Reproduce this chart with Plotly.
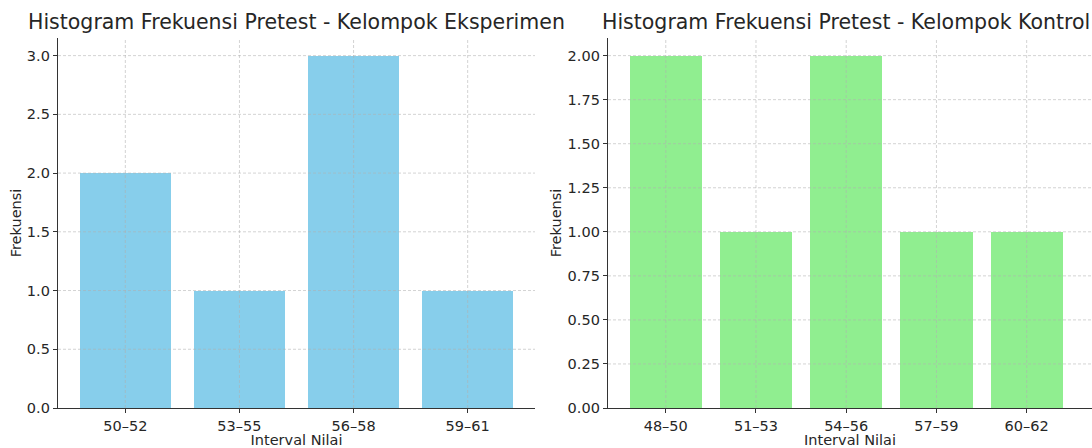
import plotly.graph_objects as go

# Data
eksperimen_labels = ["50–52", "53–55", "56–58", "59–61"]
eksperimen_freq = [2, 1, 3, 1]
kontrol_labels = ["48–50", "51–53", "54–56", "57–59", "60–62"]
kontrol_freq = [2, 1, 2, 1, 1]
eksperimen_yticks = [0.0, 0.5, 1.0, 1.5, 2.0, 2.5, 3.0]
kontrol_yticks = [0.0, 0.25, 0.5, 0.75, 1.0, 1.25, 1.5, 1.75, 2.0]

W, H = 1092, 448
FONT = "DejaVu Sans"
TXT = "#262626"
GRID = "rgba(176,176,176,0.7)"

fig = go.Figure()
fig.add_trace(go.Bar(x=list(range(len(eksperimen_labels))), y=eksperimen_freq, width=0.8,
                     marker=dict(color="#87CEEB", line=dict(width=0)), xaxis="x", yaxis="y",
                     showlegend=False))
fig.add_trace(go.Bar(x=list(range(len(kontrol_labels))), y=kontrol_freq, width=0.8,
                     marker=dict(color="#90EE90", line=dict(width=0)), xaxis="x2", yaxis="y2",
                     showlegend=False))

ydom = [(H - 408) / H, (H - 38) / H]
common_axis = dict(showline=True, linecolor="#333333", linewidth=1.2, ticks="outside",
                   ticklen=4, tickcolor="#333333", tickwidth=1, showgrid=False, zeroline=False,
                   automargin=False,
                   tickfont=dict(family=FONT, size=14.5, color=TXT), fixedrange=True)
title_font = dict(family=FONT, size=14.5, color=TXT)

n1, n2 = len(eksperimen_labels), len(kontrol_labels)
fig.update_layout(
    width=W, height=H, margin=dict(l=0, r=0, t=0, b=0, pad=0),
    paper_bgcolor="white", plot_bgcolor="white", bargap=0,
    xaxis=dict(domain=[58 / W, 535 / W], range=[-0.59, n1 - 1 + 0.59],
               tickmode="array", tickvals=list(range(n1)), ticktext=eksperimen_labels,
               title=dict(text="Interval Nilai", font=title_font, standoff=4),
               anchor="y", **common_axis),
    yaxis=dict(domain=ydom, range=[0, max(eksperimen_freq) * 1.05],
               tickmode="array", tickvals=eksperimen_yticks,
               ticktext=[f"{v:.1f}" for v in eksperimen_yticks],
               title=dict(text="Frekuensi", font=title_font, standoff=1),
               anchor="x", **common_axis),
    xaxis2=dict(domain=[608 / W, 1.0], range=[-0.64, n2 - 1 + 0.724],
                tickmode="array", tickvals=list(range(n2)), ticktext=kontrol_labels,
                title=dict(text="Interval Nilai", font=title_font, standoff=4),
                anchor="y2", **common_axis),
    yaxis2=dict(domain=ydom, range=[0, max(kontrol_freq) * 1.05],
                tickmode="array", tickvals=kontrol_yticks,
                ticktext=[f"{v:.2f}" for v in kontrol_yticks],
                title=dict(text="Frekuensi", font=title_font, standoff=2),
                anchor="x2", **common_axis),
)

# grid drawn above bars (as in matplotlib default)
shapes = []
for xr, yr, n, yt in [("x", "y", n1, eksperimen_yticks), ("x2", "y2", n2, kontrol_yticks)]:
    for i in range(n):
        shapes.append(dict(type="line", xref=xr, yref=f"{yr} domain", x0=i, x1=i, y0=0, y1=1,
                           line=dict(color=GRID, width=0.8, dash="3px,2px"), layer="above"))
    for v in yt:
        if v == 0:
            continue
        shapes.append(dict(type="line", xref=f"{xr} domain", yref=yr, x0=0, x1=1, y0=v, y1=v,
                           line=dict(color=GRID, width=0.8, dash="3px,2px"), layer="above"))
fig.update_layout(shapes=shapes)

fig.add_annotation(text="Histogram Frekuensi Pretest - Kelompok Eksperimen", xref="paper", yref="paper",
                   x=(58 + 535) / 2 / W, y=1 - 22 / H, xanchor="center", yanchor="middle",
                   showarrow=False, font=dict(family=FONT, size=20.5, color=TXT))
fig.add_annotation(text="Histogram Frekuensi Pretest - Kelompok Kontrol", xref="paper", yref="paper",
                   x=845.5 / W, y=1 - 22 / H, xanchor="center", yanchor="middle",
                   showarrow=False, font=dict(family=FONT, size=20.5, color=TXT))

fig.write_html("out.html", config={"displayModeBar": False, "staticPlot": True},
               post_script="document.body.style.margin='0px';document.body.style.padding='0px';")
